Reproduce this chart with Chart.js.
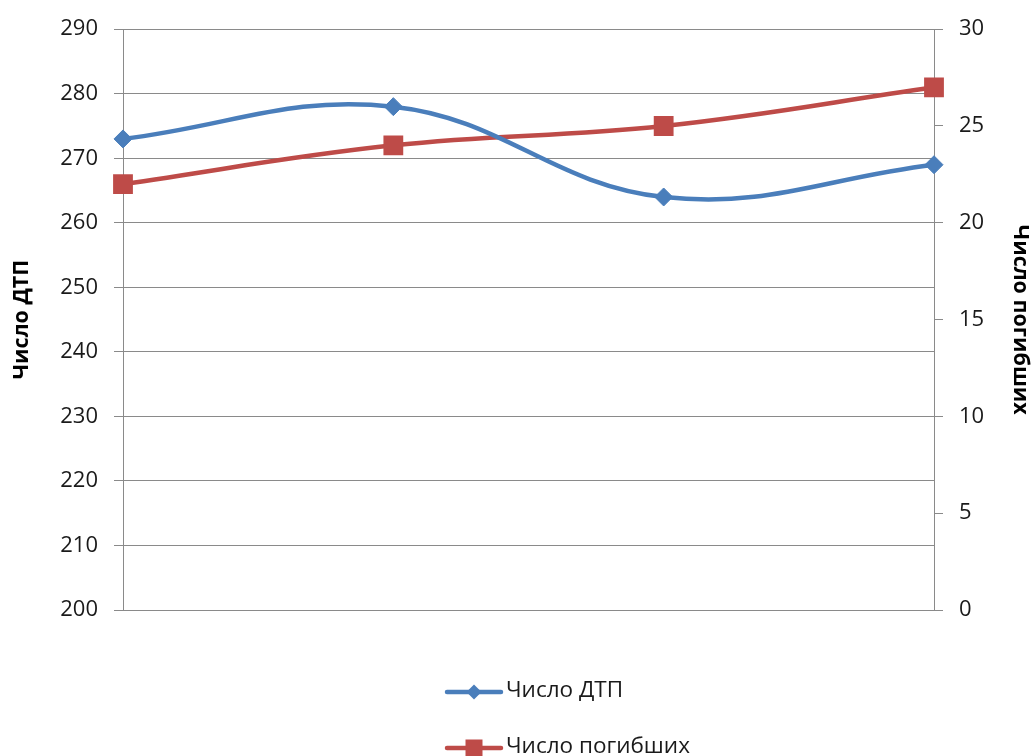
<!DOCTYPE html>
<html>
<head>
<meta charset="utf-8">
<script src="https://cdn.jsdelivr.net/npm/chart.js@4/dist/chart.umd.min.js"></script>
<style>
  html, body { margin: 0; padding: 0; background: #fff; }
  #c { display: block; }
</style>
</head>
<body>
<canvas id="c" width="1036" height="756"></canvas>
<script>
// Periods (not labelled on the axis)
const periods = ['1', '2', '3', '4'];
// Number of road accidents (left axis)
const accidents = [273, 278, 264, 269];
// Number of fatalities (right axis)
const deaths = [22, 24, 25, 27];
// Tick settings
const leftTicks = { min: 200, max: 290, step: 10 };
const rightTicks = { min: 0, max: 30, step: 5 };

const BLUE = '#4a7ebb';
const RED = '#be4b48';
const GRID = '#8a8a8a';
const FONT = '"Open Sans", "DejaVu Sans", sans-serif';

// Legend drawn as a vertical list under the plot: line segment with marker, then text
const stackedLegend = {
  id: 'stackedLegend',
  afterDraw(chart) {
    const ctx = chart.ctx;
    const items = chart.data.datasets;
    const x0 = 447, x1 = 501, textX = 506;
    const ys = [692, 748];
    ctx.save();
    items.forEach((ds, i) => {
      const y = ys[i];
      const cx = (x0 + x1) / 2;
      ctx.strokeStyle = ds.borderColor;
      ctx.lineWidth = 4.5;
      ctx.lineCap = 'round';
      ctx.beginPath();
      ctx.moveTo(x0, y);
      ctx.lineTo(x1, y);
      ctx.stroke();
      ctx.fillStyle = ds.pointBackgroundColor;
      ctx.beginPath();
      if (ds.pointStyle === 'rectRot') {
        const r = 7.5;
        ctx.moveTo(cx - r, y);
        ctx.lineTo(cx, y - r);
        ctx.lineTo(cx + r, y);
        ctx.lineTo(cx, y + r);
        ctx.closePath();
      } else {
        const h = 8.5;
        ctx.rect(cx - h, y - h, 2 * h, 2 * h);
      }
      ctx.fill();
      ctx.fillStyle = '#1a1a1a';
      ctx.font = '22.5px ' + FONT;
      ctx.textBaseline = 'middle';
      ctx.textAlign = 'left';
      ctx.fillText(ds.label, textX, y - 1);
    });
    ctx.restore();
  }
};

new Chart(document.getElementById('c'), {
  type: 'line',
  data: {
    labels: periods,
    datasets: [
      {
        label: 'Число ДТП',
        data: accidents,
        yAxisID: 'y',
        borderColor: BLUE,
        backgroundColor: BLUE,
        pointBackgroundColor: BLUE,
        pointBorderColor: BLUE,
        pointStyle: 'rectRot',
        pointRadius: 9,
        pointBorderWidth: 1,
        borderWidth: 4.5,
        tension: 0.4,
        fill: false
      },
      {
        label: 'Число погибших',
        data: deaths,
        yAxisID: 'y1',
        borderColor: RED,
        backgroundColor: RED,
        pointBackgroundColor: RED,
        pointBorderColor: RED,
        pointStyle: 'rect',
        pointRadius: 14,
        pointBorderWidth: 0,
        borderWidth: 4.5,
        tension: 0.4,
        fill: false
      }
    ]
  },
  options: {
    responsive: false,
    animation: false,
    layout: { padding: { top: 27, bottom: 146, left: 0, right: 0 } },
    plugins: {
      legend: { display: false },
      tooltip: { enabled: false }
    },
    scales: {
      x: { display: false, offset: false },
      y: {
        position: 'left',
        min: leftTicks.min,
        max: leftTicks.max,
        ticks: { stepSize: leftTicks.step, color: '#1a1a1a', padding: 16, font: { family: FONT, size: 22 } },
        grid: { color: GRID, lineWidth: 1, tickLength: 9, drawTicks: true },
        border: { display: true, color: GRID, width: 1 },
        title: { display: true, text: 'Число ДТП', color: '#000', font: { family: FONT, size: 21.5, weight: 'bold' }, padding: { top: 9, bottom: 0 } },
        afterFit(s) { s.width = 123; }
      },
      y1: {
        position: 'right',
        min: rightTicks.min,
        max: rightTicks.max,
        ticks: { stepSize: rightTicks.step, color: '#1a1a1a', padding: 16, font: { family: FONT, size: 22 } },
        grid: { color: GRID, drawOnChartArea: false, tickLength: 9, drawTicks: true },
        border: { display: true, color: GRID, width: 1 },
        title: { display: true, text: 'Число погибших', color: '#000', font: { family: FONT, size: 21.5, weight: 'bold' }, padding: { top: 3, bottom: 0 } },
        afterFit(s) { s.width = 102; }
      }
    }
  },
  plugins: [stackedLegend]
});
</script>
</body>
</html>
